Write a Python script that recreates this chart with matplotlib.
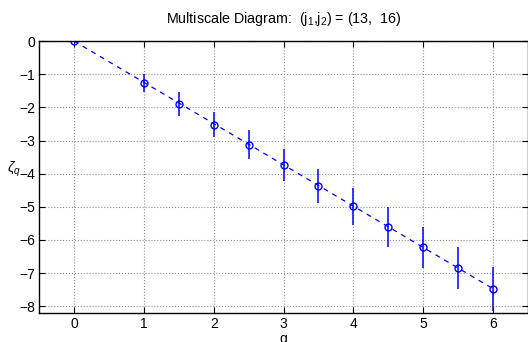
import matplotlib
matplotlib.use('Agg')
import matplotlib.pyplot as plt

plt.rcParams['font.family'] = ['Liberation Sans', 'DejaVu Sans']
plt.rcParams['mathtext.fontset'] = 'custom'
plt.rcParams['mathtext.rm'] = 'Liberation Sans'
plt.rcParams['mathtext.it'] = 'Liberation Sans:italic'

# data
q = [0, 1, 1.5, 2, 2.5, 3, 3.5, 4, 4.5, 5, 5.5, 6]
zeta = [0, -1.27, -1.9, -2.52, -3.13, -3.75, -4.37, -4.99, -5.61, -6.22, -6.85, -7.47]
err = [0, 0.27, 0.35, 0.38, 0.44, 0.48, 0.52, 0.56, 0.59, 0.62, 0.64, 0.67]
fit_q = [0, 6]
fit_zeta = [0, -7.47]

fig = plt.figure(figsize=(5.28, 3.42), dpi=100)
ax = fig.add_axes([0.074, 0.085, 0.926, 0.795])

ax.plot(fit_q, fit_zeta, '--', color='b', lw=0.9, dashes=(4, 4))
ax.errorbar(q, zeta, yerr=err, fmt='o', color='b', mfc='none', ms=5,
            mew=1.0, elinewidth=1.1, capsize=0)

ax.set_xlim(-0.5, 6.5)
ax.set_ylim(-8.2, 0)
ax.set_xticks(range(0, 7))
ax.set_yticks(range(-8, 1))
ax.set_yticklabels(['\u2212%d' % -v if v < 0 else '0' for v in range(-8, 1)])
ax.grid(True, linestyle=':', color='#909090', lw=0.8)
ax.tick_params(direction='in', top=True, right=True, labelsize=10, length=4, pad=3)
for s in ax.spines.values():
    s.set_linewidth(1.0)

ax.set_title('Multiscale Diagram:  (j$_1$,j$_2$) = (13,  16)', fontsize=10.3, pad=13)
ax.set_xlabel('q', fontsize=10, labelpad=1)
fig.text(0.014, 0.495, r'$\zeta_q$', fontsize=10)

fig.savefig('out.png', dpi=100)
